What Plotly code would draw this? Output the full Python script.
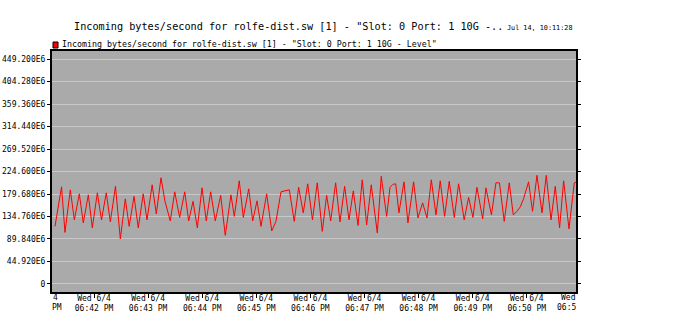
import plotly.graph_objects as go

DAY = "2025-06-04 "
times = [
    "18:41:16.7", "18:41:24.0", "18:41:27.8", "18:41:33.7", "18:41:38.2", "18:41:43.7", "18:41:48.1", "18:41:53.7", "18:41:58.1", "18:42:03.7",
    "18:42:08.3", "18:42:13.6", "18:42:18.1", "18:42:23.8", "18:42:29.2", "18:42:34.7", "18:42:39.0", "18:42:44.4", "18:42:49.1", "18:42:54.6",
    "18:42:58.8", "18:43:04.5", "18:43:09.1", "18:43:14.3", "18:43:18.7", "18:43:24.6", "18:43:29.5", "18:43:35.0", "18:43:40.6", "18:43:45.0",
    "18:43:49.8", "18:43:54.6", "18:43:59.8", "18:44:04.5", "18:44:09.4", "18:44:14.5", "18:44:20.5", "18:44:25.6", "18:44:31.9", "18:44:35.6",
    "18:44:41.1", "18:44:45.6", "18:44:51.6", "18:44:56.0", "18:45:00.8", "18:45:05.2", "18:45:11.5", "18:45:17.1", "18:45:21.8", "18:45:27.4",
    "18:45:31.8", "18:45:36.6", "18:45:42.1", "18:45:47.0", "18:45:52.1", "18:45:57.0", "18:46:02.3", "18:46:07.6", "18:46:13.2", "18:46:18.0",
    "18:46:22.5", "18:46:28.0", "18:46:32.8", "18:46:38.0", "18:46:42.8", "18:46:47.6", "18:46:52.8", "18:46:57.5", "18:47:02.4", "18:47:07.5",
    "18:47:14.2", "18:47:18.6", "18:47:24.6", "18:47:28.3", "18:47:31.6", "18:47:34.6", "18:47:38.2", "18:47:43.8", "18:47:48.2", "18:47:54.5",
    "18:47:59.3", "18:48:04.5", "18:48:09.3", "18:48:14.1", "18:48:19.3", "18:48:24.0", "18:48:28.9", "18:48:34.0", "18:48:39.6", "18:48:44.4",
    "18:48:50.6", "18:48:55.5", "18:49:00.3", "18:49:04.7", "18:49:11.1", "18:49:14.7", "18:49:20.8", "18:49:25.8", "18:49:29.7", "18:49:35.0",
    "18:49:40.6", "18:49:45.0", "18:49:49.1", "18:49:52.8", "18:49:56.4", "18:50:02.0", "18:50:06.4", "18:50:11.3", "18:50:16.9", "18:50:21.6",
    "18:50:26.9", "18:50:31.6", "18:50:36.4", "18:50:40.9", "18:50:46.8", "18:50:52.7", "18:50:56.8",
]
# incoming bytes/second, in millions
values_e6 = [
    115, 194, 103, 188, 128, 180, 122, 178, 112, 182,
    128, 182, 124, 195, 90, 170, 115, 175, 112, 180,
    128, 198, 140, 212, 165, 126, 184, 133, 184, 126,
    165, 112, 192, 126, 184, 126, 177, 97, 178, 135,
    206, 133, 190, 126, 166, 115, 180, 106, 125, 184,
    186, 188, 125, 193, 142, 200, 128, 202, 105, 177,
    126, 202, 124, 195, 128, 186, 117, 208, 118, 198,
    102, 215, 135, 193, 199, 200, 142, 204, 122, 204,
    132, 162, 132, 208, 138, 206, 135, 205, 133, 200,
    128, 173, 133, 193, 130, 192, 138, 202, 202, 125,
    202, 138, 145, 154, 170, 204, 145, 217, 142, 217,
    128, 195, 112, 206, 110, 202, 205,
]

y_tick_vals = [0, 44.92, 89.84, 134.76, 179.68, 224.6, 269.52, 314.44, 359.36, 404.28, 449.2]
y_tick_text = ["0", "44.920E6", "89.840E6", "134.760E6", "179.680E6", "224.600E6",
               "269.520E6", "314.440E6", "359.360E6", "404.280E6", "449.200E6"]

x_tick_times = ["18:42", "18:43", "18:44", "18:45", "18:46", "18:47", "18:48", "18:49", "18:50"]
x_tick_text = ["Wed 6/4<br>06:42 PM", "Wed 6/4<br>06:43 PM", "Wed 6/4<br>06:44 PM",
               "Wed 6/4<br>06:45 PM", "Wed 6/4<br>06:46 PM", "Wed 6/4<br>06:47 PM",
               "Wed 6/4<br>06:48 PM", "Wed 6/4<br>06:49 PM", "Wed 6/4<br>06:50 PM"]

title_text = 'Incoming bytes/second for rolfe-dist.sw [1] - "Slot: 0 Port: 1 10G -..'
stamp_text = "Jul 14, 10:11:28"
series_name = 'Incoming bytes/second for rolfe-dist.sw [1] - "Slot: 0 Port: 1 10G - Level"'

MONO = "DejaVu Sans Mono"
W, H = 686, 333
L, R, T, B = 52, 576, 51, 292


def px(x):
    return (x - L) / (R - L)


def py(y):
    return (B - y) / (B - T)


fig = go.Figure()
fig.add_trace(go.Scatter(
    x=[DAY + t for t in times], y=values_e6, mode="lines",
    line=dict(color="#ff0000", width=1), name=series_name, showlegend=False,
))

fig.update_layout(
    width=W, height=H,
    margin=dict(l=L, r=W - R, t=T, b=H - B, pad=0, autoexpand=False),
    paper_bgcolor="white", plot_bgcolor="#aaaaaa",
    font=dict(family=MONO, size=8, color="black"),
    showlegend=False,
    xaxis=dict(
        type="date", automargin=False,
        range=[DAY + "18:41:13.4", DAY + "18:50:54.6"],
        tickvals=[DAY + t for t in x_tick_times], ticktext=x_tick_text,
        ticks="outside", ticklen=4, tickcolor="black", tickwidth=1,
        ticklabelstandoff=-7,
        showgrid=False, zeroline=False,
        showline=True, linecolor="black", linewidth=2, mirror=True,
        tickfont=dict(family=MONO, size=8, color="black"),
    ),
    yaxis=dict(
        automargin=False,
        range=[-16.0, 465.2],
        tickvals=y_tick_vals, ticktext=y_tick_text,
        ticks="outside", ticklen=3, tickcolor="black", tickwidth=1,
        showgrid=True, gridcolor="#c8c8c8", gridwidth=1, zeroline=False,
        showline=True, linecolor="black", linewidth=2, mirror="ticks",
        tickfont=dict(family=MONO, size=8, color="black"),
    ),
)

fig.add_shape(type="rect", xref="paper", yref="paper",
              x0=px(53), x1=px(58), y0=py(48), y1=py(42),
              fillcolor="#ff0000", line=dict(color="black", width=1))

annots = [
    dict(text=title_text, x=px(72), y=py(27), xanchor="left", size=10.2),
    dict(text=stamp_text, x=px(574), y=py(28), xanchor="right", size=6.8),
    dict(text=series_name, x=px(60), y=py(43.5), xanchor="left", size=8.3),
    dict(text="4", x=px(51), y=py(297), xanchor="left", size=8),
    dict(text="PM", x=px(50), y=py(307), xanchor="left", size=8),
    dict(text="Wed", x=px(578), y=py(297), xanchor="right", size=8),
    dict(text="06:5", x=px(578), y=py(307), xanchor="right", size=8),
]
for a in annots:
    fig.add_annotation(text=a["text"], x=a["x"], y=a["y"], xref="paper", yref="paper",
                       xanchor=a["xanchor"], yanchor="middle", showarrow=False,
                       font=dict(family=MONO, size=a["size"], color="black"))

fig.write_html("out.html")
